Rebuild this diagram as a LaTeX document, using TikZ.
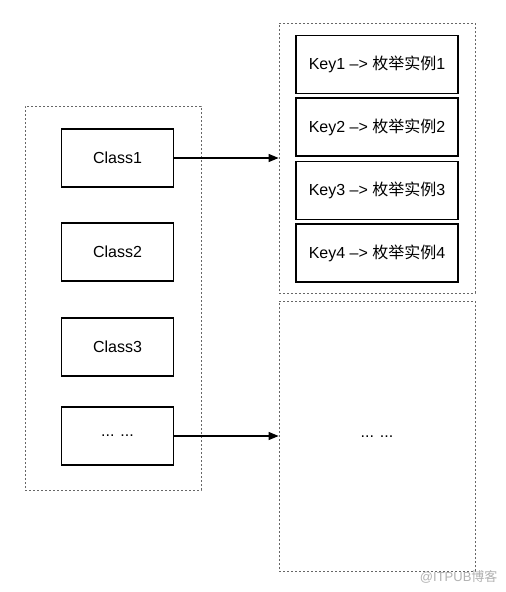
\documentclass[tikz,border=0pt]{standalone}
\usepackage{fontspec}
\setmainfont{Liberation Sans}
\newfontfamily\cjk{Noto Sans CJK SC}
\usetikzlibrary{arrows.meta}
\begin{document}
\begin{tikzpicture}[x=1pt,y=-1pt,
  every node/.style={font=\fontsize{16}{19}\selectfont},
  box/.style={draw=black, line width=1.2pt, rectangle, inner sep=0pt, fill=white},
  classbox/.style={box, minimum width=112pt, minimum height=58pt},
  keybox/.style={box, minimum width=162pt, minimum height=58pt},
  cont/.style={draw=black!60, line width=0.8pt, dash pattern=on 2pt off 2pt, rectangle, inner sep=0pt},
  link/.style={draw=black, line width=1.1pt, -{Triangle[length=10pt,width=8pt]}}]
\useasboundingbox (0,0) rectangle (506,592);
\fill[white] (0,0) rectangle (506,592);
% containers
\node[cont, minimum width=176pt, minimum height=384pt] (left) at (113,298) {};
\node[cont, minimum width=196pt, minimum height=270pt] (rtop) at (377,158) {};
\node[cont, minimum width=196pt, minimum height=270pt] (rbot) at (377,436) {};
% class boxes
\node[classbox] (c1) at (117.5,158) {Class1};
\node[classbox] (c2) at (117.5,252) {Class2};
\node[classbox] (c3) at (117.5,347) {Class3};
\node[classbox] (c4) at (117.5,436) {... ...};
% key boxes
\node[keybox] (k1) at (377,64.5) {Key1 –> {\cjk 枚举实例}1};
\node[keybox] (k2) at (377,127) {Key2 –> {\cjk 枚举实例}2};
\node[keybox] (k3) at (377,190.5) {Key3 –> {\cjk 枚举实例}3};
\node[keybox] (k4) at (377,253) {Key4 –> {\cjk 枚举实例}4};
% bottom content
\node (dots) at (377,437) {... ...};
% arrows
\draw[link] (c1.east) -- (rtop.west);
\draw[link] (c4.east) -- (rbot.west);
% watermark
\node[text=black!30, anchor=east, font=\fontsize{13}{15}\selectfont] (wm) at (501,577) {@ITPUB{\cjk 博客}};
\end{tikzpicture}
\end{document}
